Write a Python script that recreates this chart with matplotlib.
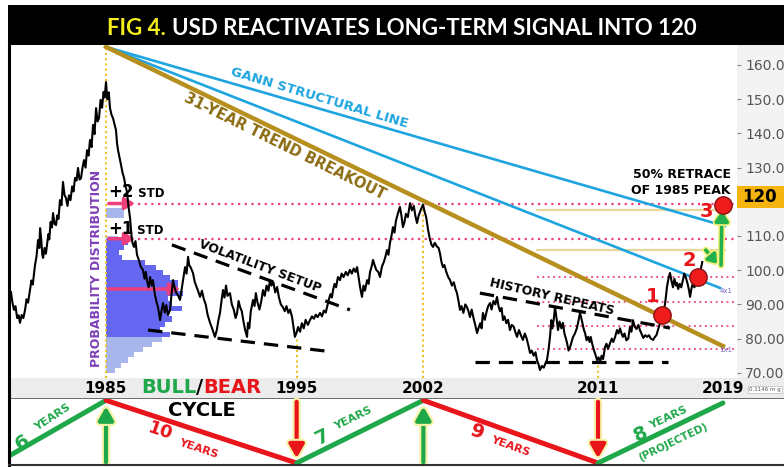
import matplotlib
matplotlib.use("Agg")
import matplotlib.pyplot as plt
import matplotlib.patheffects as pe
from matplotlib.patches import Rectangle
from matplotlib.lines import Line2D

W, H = 784, 467

# US dollar index (decimal year, index level)
usd_year = [1980.09, 1980.17, 1980.25, 1980.33, 1980.42, 1980.50, 1980.57, 1980.66, 1980.75, 1980.84,
            1980.92, 1981.00, 1981.10, 1981.18, 1981.25, 1981.37, 1981.45, 1981.53, 1981.60, 1981.64,
            1981.70, 1981.76, 1981.80, 1981.88, 1981.95, 1982.01, 1982.08, 1982.13, 1982.20, 1982.27,
            1982.33, 1982.41, 1982.49, 1982.55, 1982.62, 1982.70, 1982.78, 1982.86, 1982.94, 1983.02,
            1983.10, 1983.18, 1983.26, 1983.35, 1983.42, 1983.50, 1983.58, 1983.66, 1983.74, 1983.82,
            1983.90, 1983.98, 1984.06, 1984.14, 1984.22, 1984.30, 1984.38, 1984.46, 1984.54, 1984.62,
            1984.70, 1984.78, 1984.86, 1984.94, 1985.02, 1985.08, 1985.15, 1985.22, 1985.30, 1985.36,
            1985.44, 1985.52, 1985.60, 1985.68, 1985.74, 1985.79, 1985.87, 1985.95, 1986.03, 1986.11,
            1986.19, 1986.27, 1986.35, 1986.43, 1986.50, 1986.56, 1986.64, 1986.72, 1986.80, 1986.90,
            1987.00, 1987.12, 1987.20, 1987.27, 1987.33, 1987.42, 1987.50, 1987.58, 1987.65, 1987.75,
            1987.85, 1987.92, 1988.03, 1988.10, 1988.19, 1988.28, 1988.36, 1988.45, 1988.56, 1988.64,
            1988.72, 1988.80, 1988.88, 1989.00, 1989.09, 1989.18, 1989.27, 1989.36, 1989.44, 1989.52,
            1989.58, 1989.66, 1989.78, 1989.88, 1989.98, 1990.08, 1990.16, 1990.26, 1990.36, 1990.46,
            1990.56, 1990.69, 1990.80, 1990.95, 1991.05, 1991.14, 1991.22, 1991.30, 1991.38, 1991.46,
            1991.54, 1991.62, 1991.75, 1991.85, 1991.95, 1992.05, 1992.13, 1992.21, 1992.29, 1992.38,
            1992.47, 1992.56, 1992.66, 1992.71, 1992.78, 1992.86, 1992.98, 1993.06, 1993.13, 1993.22,
            1993.32, 1993.42, 1993.51, 1993.60, 1993.70, 1993.80, 1993.88, 1993.96, 1994.06, 1994.16,
            1994.26, 1994.36, 1994.46, 1994.57, 1994.67, 1994.76, 1994.86, 1994.95, 1995.05, 1995.13,
            1995.21, 1995.30, 1995.38, 1995.48, 1995.58, 1995.68, 1995.78, 1995.90, 1996.01, 1996.12,
            1996.22, 1996.32, 1996.42, 1996.55, 1996.65, 1996.75, 1996.85, 1996.92, 1997.02, 1997.10,
            1997.18, 1997.24, 1997.32, 1997.40, 1997.50, 1997.61, 1997.70, 1997.80, 1997.92, 1998.02,
            1998.14, 1998.24, 1998.34, 1998.44, 1998.52, 1998.60, 1998.68, 1998.78, 1998.86, 1998.94,
            1999.05, 1999.13, 1999.21, 1999.29, 1999.37, 1999.45, 1999.55, 1999.65, 1999.74, 1999.84,
            1999.95, 2000.03, 2000.11, 2000.19, 2000.27, 2000.35, 2000.43, 2000.51, 2000.59, 2000.69,
            2000.80, 2000.88, 2000.96, 2001.04, 2001.12, 2001.22, 2001.34, 2001.44, 2001.54, 2001.62,
            2001.71, 2001.80, 2001.90, 2002.03, 2002.12, 2002.20, 2002.30, 2002.40, 2002.48, 2002.56,
            2002.66, 2002.76, 2002.86, 2002.93, 2003.01, 2003.09, 2003.17, 2003.27, 2003.37, 2003.47,
            2003.57, 2003.67, 2003.76, 2003.84, 2003.92, 2004.00, 2004.08, 2004.18, 2004.28, 2004.37,
            2004.45, 2004.53, 2004.62, 2004.72, 2004.81, 2004.91, 2004.98, 2005.08, 2005.15, 2005.22,
            2005.32, 2005.42, 2005.50, 2005.60, 2005.68, 2005.78, 2005.88, 2005.97, 2006.05, 2006.13,
            2006.21, 2006.29, 2006.37, 2006.47, 2006.56, 2006.66, 2006.76, 2006.86, 2006.94, 2007.04,
            2007.14, 2007.24, 2007.35, 2007.45, 2007.55, 2007.64, 2007.73, 2007.82, 2007.92, 2008.02,
            2008.10, 2008.18, 2008.26, 2008.36, 2008.46, 2008.55, 2008.63, 2008.72, 2008.80, 2008.86,
            2008.92, 2009.00, 2009.06, 2009.14, 2009.22, 2009.30, 2009.40, 2009.48, 2009.56, 2009.64,
            2009.70, 2009.78, 2009.86, 2009.94, 2010.02, 2010.12, 2010.22, 2010.30, 2010.39, 2010.46,
            2010.54, 2010.60, 2010.66, 2010.74, 2010.82, 2010.90, 2010.96, 2011.03, 2011.11, 2011.20,
            2011.30, 2011.38, 2011.46, 2011.54, 2011.62, 2011.72, 2011.80, 2011.88, 2011.99, 2012.08,
            2012.16, 2012.26, 2012.36, 2012.44, 2012.52, 2012.60, 2012.68, 2012.76, 2012.86, 2012.96,
            2013.05, 2013.13, 2013.21, 2013.30, 2013.40, 2013.50, 2013.58, 2013.66, 2013.76, 2013.86,
            2013.96, 2014.06, 2014.16, 2014.28, 2014.38, 2014.46, 2014.54, 2014.62, 2014.70, 2014.81,
            2014.90, 2014.96, 2015.02, 2015.10, 2015.18, 2015.26, 2015.34, 2015.42, 2015.50, 2015.55,
            2015.62, 2015.70, 2015.78, 2015.87, 2015.94, 2016.02, 2016.12, 2016.20, 2016.25, 2016.32,
            2016.40, 2016.48, 2016.56, 2016.64, 2016.72, 2016.78, 2016.84, 2016.90]
usd_value = [93.6, 90.5, 88.4, 89.5, 86.0, 86.8, 84.6, 86.9, 86.0, 88.4,
             91.5, 90.5, 94.2, 97.0, 95.8, 101.5, 104.0, 108.8, 106.5, 112.3,
             109.0, 104.5, 103.6, 106.5, 104.8, 107.4, 110.5, 109.0, 114.1, 112.5,
             116.7, 113.5, 113.2, 116.0, 115.0, 120.5, 119.0, 125.8, 122.0, 121.1,
             118.8, 121.9, 120.5, 124.5, 123.0, 127.0, 126.2, 129.9, 126.5, 126.9,
             130.0, 132.2, 130.0, 135.1, 133.5, 138.1, 136.0, 142.5, 139.8, 147.4,
             143.5, 144.5, 149.8, 147.5, 152.1, 150.5, 155.0, 150.0, 152.0, 147.5,
             145.5, 144.5, 142.8, 141.0, 137.0, 135.1, 133.0, 130.8, 128.5, 127.0,
             124.5, 122.9, 118.5, 115.3, 110.5, 108.0, 106.8, 108.5, 104.5, 103.0,
             101.0, 100.1, 97.5, 99.5, 97.1, 95.0, 98.0, 95.5, 97.1, 93.0,
             90.5, 89.2, 85.4, 88.0, 90.4, 87.6, 89.8, 86.9, 88.4, 93.0,
             97.1, 95.0, 93.5, 92.5, 91.3, 94.5, 97.5, 100.9, 99.0, 103.9,
             101.5, 100.8, 99.2, 96.5, 95.0, 93.5, 92.2, 94.0, 91.5, 90.0,
             87.0, 84.6, 83.0, 80.5, 82.5, 85.5, 87.5, 91.0, 94.2, 92.0,
             95.5, 92.5, 93.3, 90.0, 88.5, 86.0, 87.5, 91.0, 89.2, 88.0,
             85.0, 82.5, 80.5, 84.6, 83.0, 88.0, 91.3, 89.5, 93.3, 90.5,
             88.5, 91.0, 94.2, 92.5, 95.5, 94.0, 97.1, 95.5, 96.5, 93.5,
             95.1, 92.0, 90.0, 89.2, 88.0, 89.5, 87.5, 88.5, 86.5, 83.5,
             80.5, 81.8, 83.4, 82.0, 84.5, 83.0, 85.5, 84.0, 85.4, 86.5,
             85.8, 87.0, 86.3, 87.5, 86.5, 88.2, 87.6, 89.2, 91.5, 93.0,
             92.0, 94.2, 96.0, 95.0, 98.0, 97.1, 99.0, 98.0, 99.5, 98.5,
             100.1, 99.0, 100.5, 99.5, 100.9, 98.0, 95.0, 92.2, 95.5, 94.0,
             97.1, 96.0, 99.5, 101.0, 103.0, 101.5, 100.0, 99.5, 98.0, 101.0,
             102.5, 104.0, 105.9, 104.5, 108.0, 110.0, 112.6, 111.0, 114.5, 116.5,
             118.5, 116.0, 112.6, 114.0, 116.5, 115.5, 119.6, 117.5, 118.8, 116.0,
             113.8, 116.0, 117.5, 119.2, 117.0, 115.5, 111.8, 109.0, 107.5, 106.8,
             108.0, 107.0, 106.5, 105.0, 102.5, 100.9, 101.5, 99.5, 98.0, 97.1,
             95.5, 96.5, 94.5, 93.3, 91.0, 88.4, 89.5, 87.5, 90.0, 89.2,
             88.0, 86.3, 88.5, 86.0, 84.0, 81.6, 83.0, 84.5, 83.0, 87.5,
             85.5, 88.0, 89.5, 90.4, 88.5, 91.0, 90.0, 92.2, 89.5, 88.0,
             89.0, 85.4, 86.5, 84.5, 85.5, 82.5, 84.0, 83.5, 82.0, 80.5,
             82.5, 81.0, 79.6, 81.5, 80.0, 78.0, 75.8, 76.5, 75.0, 76.0,
             73.7, 72.5, 70.8, 72.0, 71.5, 72.8, 73.7, 77.0, 81.0, 85.4,
             83.0, 86.0, 89.2, 86.0, 82.5, 85.0, 83.0, 84.6, 81.5, 80.0,
             78.7, 76.5, 77.5, 79.0, 80.5, 81.5, 83.0, 85.0, 87.5, 86.0,
             84.0, 82.5, 81.6, 79.5, 80.5, 79.0, 80.5, 78.7, 77.0, 75.5,
             73.7, 74.5, 73.2, 75.0, 74.0, 77.5, 78.5, 77.0, 78.7, 80.0,
             79.0, 80.5, 82.5, 81.5, 83.0, 81.5, 80.5, 81.5, 79.5, 80.0,
             83.4, 82.0, 85.4, 83.5, 82.8, 84.0, 82.5, 81.5, 80.2, 81.0,
             80.5, 81.0, 80.0, 79.6, 80.5, 81.0, 82.5, 84.0, 85.0, 87.5,
             89.5, 92.0, 95.1, 97.5, 99.2, 97.0, 95.0, 97.5, 95.5, 96.3,
             94.5, 96.0, 95.0, 97.1, 99.0, 98.0, 96.0, 94.0, 92.2, 94.5,
             96.3, 95.0, 96.0, 95.5, 97.5, 99.2, 100.8, 102.4]

# 1985 probability distribution (price bin, bar length in years, bin height)
prob_level = [70.75, 72.25, 73.75, 75.25, 76.75, 78.25, 79.75, 81.25, 82.75, 84.25,
              85.75, 87.25, 88.75, 90.25, 91.75, 93.25, 94.75, 96.25, 97.75, 99.25,
              100.75, 102.25, 103.75, 105.25, 106.75, 108.25, 109.5, 116.0, 117.5]
prob_width = [0.48, 0.80, 1.17, 1.49, 1.97, 2.45, 2.98, 3.41, 2.88, 3.14,
              3.51, 3.30, 4.05, 3.51, 3.30, 4.10, 3.83, 3.83, 3.41, 3.04,
              2.66, 2.08, 0.85, 0.69, 0.96, 1.17, 0.64, 0.96, 0.96]
prob_height = [1.5] * 26 + [1.0, 1.5, 1.5]
core_low, core_high = 81.0, 108.9

# trend lines from the 1985 peak
peak_year, peak_value = 1985.15, 165.3
gann_end_year = [2018.1, 2017.85]
gann_end_value = [112.9, 94.8]
trend_end_year, trend_end_value = 2018.0, 77.8

# standard-deviation levels and other horizontal levels
std_levels = [119.5, 109.2]
mean_level = 94.5
short_pink = [98.0, 90.8, 83.7, 77.0]
short_gold = [117.5, 106.0]

# dashed support / resistance guides
vol_top = ([1988.66, 1998.14], [107.4, 88.4])
vol_bot = ([1987.39, 1997.24], [82.5, 76.1])
hist_top = ([2005.06, 2015.18], [93.3, 83.1])
hist_bot = ([2004.80, 2015.07], [73.2, 73.2])

# cycle turning points
turn_year = [1985.15, 1995.30, 2002.05, 2011.35]
turn_value = [165.3, 80.5, 119.2, 73.2]
cycle_year = [1979.15, 1985.15, 1995.30, 2002.05, 2011.35, 2018.0]
cycle_level = [0.0, 0.98, 0.03, 0.98, 0.03, 0.94]
year_labels = ['1985', '1995', '2002', '2011', '2019']

# signals 1-2-3
signal_year = [2014.75, 2016.67, 2018.0]
signal_value = [86.9, 98.0, 119.1]
signal_label = ['1', '2', '3']

yticks = [70, 80, 90, 100, 110, 130, 140, 150, 160]

GREEN = '#1fa84a'
RED = '#e8151b'
GOLD = '#b78f1e'
BLUE = '#1ea5e0'
PINK = '#ee3f7c'
YEL = '#f0c020'
GLOW = [pe.withStroke(linewidth=6, foreground='#f8f3a6')]


def box(x0, y0, x1, y1):
    return [x0 / W, 1 - y1 / H, (x1 - x0) / W, (y1 - y0) / H]


def yr(px):
    return 1985.15 + (px - 106) / 18.78


def lv(py):
    return 160 - (py - 65) / 3.42


fig = plt.figure(figsize=(W / 100, H / 100), dpi=100)
fig.patch.set_facecolor('white')
R = fig.canvas.get_renderer()


def put_row(parts, x0, base):
    x = x0
    for s, kw in parts:
        t = fig.text(x / W, 1 - base / H, s, ha='left', va='baseline', **kw)
        x += t.get_window_extent(R).width
    return x


# ---------------- main price panel ----------------
ax = fig.add_axes(box(10, 45, 737, 378))
ax.set_xlim(yr(10), yr(737))
ax.set_ylim(lv(378), lv(45))
ax.set_facecolor('white')
for s in ax.spines.values():
    s.set_visible(False)
ax.set_xticks([])
ax.yaxis.tick_right()
ax.set_yticks(yticks)
ax.set_yticklabels(['%.2f' % v for v in yticks], color='#555555', fontsize=10)
ax.tick_params(axis='y', length=3, color='#888888', pad=3)

# histogram
cols = ['#6567f0' if core_low <= p <= core_high else '#a8b6ec' for p in prob_level]
ax.barh(prob_level, prob_width, height=prob_height, left=peak_year, color=cols, zorder=1)

# horizontal levels
for v in std_levels:
    ax.plot([yr(138), ax.get_xlim()[1]], [v, v], ls=(0, (1, 2)), color=PINK, lw=1.6, zorder=2)
for v in short_pink:
    ax.plot([yr(537), ax.get_xlim()[1]], [v, v], ls=(0, (1, 2)), color=PINK, lw=1.3, zorder=2)
for v in short_gold:
    ax.plot([yr(537), yr(725)], [v, v], color='#e6d89a', lw=1.6, zorder=2)

# pink arrows from the distribution
for v, tip in [(std_levels[0], yr(138)), (std_levels[1], yr(138)), (mean_level, yr(183))]:
    ax.annotate('', xy=(tip, v), xytext=(peak_year, v),
                arrowprops=dict(arrowstyle='-|>,head_width=0.35,head_length=0.6', color=PINK, lw=2.5),
                zorder=4)

# cycle verticals
for x, top in zip(turn_year, turn_value):
    ax.plot([x, x], [ax.get_ylim()[0], top], ls=(0, (1, 1.5)), color=YEL, lw=1.5, zorder=2)

# trend lines
for ey, ev in zip(gann_end_year, gann_end_value):
    ax.plot([peak_year, ey], [peak_value, ev], color=BLUE, lw=1.9, zorder=3)
ax.plot([peak_year, trend_end_year], [peak_value, trend_end_value], color=GOLD, lw=3.2, zorder=3)

# dashed guides
for gx, gy in [vol_top, vol_bot, hist_top, hist_bot]:
    ax.plot(gx, gy, color='black', lw=2.3, ls=(0, (4.5, 2.8)), zorder=4)

# price
ax.plot(usd_year, usd_value, color='black', lw=1.5, zorder=5)

# signals
ax.plot(signal_year, signal_value, 'o', ms=12.5, mfc='#ee1c1c', mec='#8a1010', mew=1, zorder=7)
for x, v, s, off in zip(signal_year, signal_value, signal_label, [(-7, 13), (-6.5, 12), (-12, -5)]):
    ax.annotate(s, (x, v), xytext=off, textcoords='offset points', ha='center', va='center',
                color=RED, fontsize=14, fontweight='bold', zorder=8)

# green arrows 2 -> 3
a1 = ax.annotate('', xy=(yr(719), lv(266)), xytext=(yr(704), lv(248)),
                 arrowprops=dict(arrowstyle='-|>,head_width=0.35,head_length=0.5', color='#22b14c', lw=2.6), zorder=6)
a2 = ax.annotate('', xy=(yr(722), lv(208)), xytext=(yr(721), lv(268)),
                 arrowprops=dict(arrowstyle='-|>,head_width=0.4,head_length=0.6', color='#22b14c', lw=2.6), zorder=6)
for a in (a1, a2):
    a.arrow_patch.set_path_effects([pe.withStroke(linewidth=5, foreground='#f5f07a')])

# main texts
ax.text(yr(319), lv(98), 'GANN STRUCTURAL LINE', color=BLUE, fontsize=9.5, fontweight='bold',
        rotation=-16.6, rotation_mode='anchor', ha='center', va='center', zorder=6)
ax.text(yr(285), lv(146), '31-YEAR TREND BREAKOUT', color='#8c6c12', fontsize=10.5, fontweight='bold',
        rotation=-26.3, rotation_mode='anchor', ha='center', va='center', zorder=6)
ax.text(yr(260), lv(266), 'VOLATILITY SETUP', color='black', fontsize=9, fontweight='bold',
        rotation=-20.5, rotation_mode='anchor', ha='center', va='center', zorder=6)
ax.text(yr(552), lv(297), 'HISTORY REPEATS', color='black', fontsize=9, fontweight='bold',
        rotation=-13, rotation_mode='anchor', ha='center', va='center', zorder=6)
ax.text(yr(97), lv(268), 'PROBABILITY DISTRIBUTION', color='#7e3fb8', fontsize=9, fontweight='bold',
        rotation=90, ha='center', va='center', zorder=6)
ax.text(yr(731), lv(175), '50% RETRACE', color='black', fontsize=9, fontweight='bold', ha='right', va='center', zorder=6)
ax.text(yr(731), lv(191), 'OF 1985 PEAK', color='black', fontsize=9, fontweight='bold', ha='right', va='center', zorder=6)
ax.text(yr(726), lv(291), '4x1', color='#7b68c8', fontsize=5, ha='center', va='center')
ax.text(yr(726), lv(350), '1x1', color='#7b68c8', fontsize=5, ha='center', va='center')

put_row([('+2', dict(fontsize=12, fontweight='bold', color='black')),
         (' STD', dict(fontsize=8.5, fontweight='bold', color='black'))], 108, 197)
put_row([('+1', dict(fontsize=12, fontweight='bold', color='black')),
         (' STD', dict(fontsize=8.5, fontweight='bold', color='black'))], 108, 234)

# right axis strip and 120 tag
fig.add_artist(Rectangle((737 / W, 1 - 378 / H), 47 / W, 333 / H, transform=fig.transFigure,
                         facecolor='#f3f3f3', edgecolor='none', zorder=-1))
fig.add_artist(Rectangle((737 / W, 1 - 208 / H), 47 / W, 22 / H, transform=fig.transFigure,
                         facecolor='#f6b40e', edgecolor='none', zorder=10))
fig.text(760 / W, 1 - 197 / H, '120', fontsize=12, fontweight='bold', ha='center', va='center', zorder=11)

# ---------------- year band ----------------
band = fig.add_axes(box(10, 378, 784, 399))
band.set_xlim(yr(10), yr(784))
band.set_ylim(0, 1)
band.set_facecolor('#ececec')
band.set_xticks([])
band.set_yticks([])
for s in band.spines.values():
    s.set_visible(False)
band.axhline(0, color='#555555', lw=1.2)
for x, s in zip(cycle_year[1:], year_labels):
    band.text(x, 0.3, s, fontsize=11, fontweight='bold', ha='center', va='baseline')
band.text(yr(765), 0.45, '0.1146 m g', fontsize=4, color='#555555', ha='center', va='center',
          bbox=dict(facecolor='white', edgecolor='#bbbbbb', pad=1, lw=0.5))
put_row([('BULL', dict(fontsize=14, fontweight='bold', color=GREEN)),
         ('/', dict(fontsize=14, fontweight='bold', color='black')),
         ('BEAR', dict(fontsize=14, fontweight='bold', color=RED))], 141, 393)

# ---------------- cycle panel ----------------
low = fig.add_axes(box(10, 399, 784, 465))
low.set_xlim(yr(10), yr(784))
low.set_ylim(0, 1)
low.axis('off')
for i in range(len(cycle_year) - 1):
    low.plot(cycle_year[i:i + 2], cycle_level[i:i + 2], color=GREEN if i % 2 == 0 else RED,
             lw=3.6, solid_capstyle='round', zorder=3)
for i, x in enumerate(turn_year):
    up = i % 2 == 0
    a = low.annotate('', xy=(x, 0.93 if up else 0.06), xytext=(x, 0.0 if up else 1.0),
                     arrowprops=dict(arrowstyle='-|>,head_width=0.45,head_length=0.8',
                                     color=GREEN if up else RED, lw=3.0), zorder=2)
    a.arrow_patch.set_path_effects(GLOW)

lab = [('6', 22, 443, 33, GREEN, 14), ('YEARS', 53, 417, 33, GREEN, 8),
       ('10', 160, 431, -18.5, RED, 13), ('YEARS', 198, 449, -18.5, RED, 8),
       ('7', 322, 437, 26, GREEN, 14), ('YEARS', 353, 418, 26, GREEN, 8),
       ('9', 477, 432, -20, RED, 14), ('YEARS', 510, 446, -20, RED, 8),
       ('8', 641, 434, 25, GREEN, 14), ('YEARS', 668, 418, 25, GREEN, 8),
       ('(PROJECTED)', 673, 442, 25.5, GREEN, 7.5)]
for s, x, y, rot, c, fs in lab:
    low.text(yr(x), (465 - y) / 66, s, color=c, fontsize=fs, fontweight='bold', rotation=rot,
             rotation_mode='anchor', ha='center', va='center', zorder=5)
low.text(yr(202), (465 - 410) / 66, 'CYCLE', fontsize=14, fontweight='bold', ha='center', va='center')

# frame
fig.add_artist(Line2D([9 / W, 9 / W], [0, 1 - 45 / H], transform=fig.transFigure, color='black', lw=2.2))
fig.add_artist(Line2D([9 / W, 1], [1 - 465 / H, 1 - 465 / H], transform=fig.transFigure, color='#333333', lw=1.5))

# ---------------- title ----------------
fig.add_artist(Rectangle((8 / W, 1 - 45 / H), 1, 40 / H, transform=fig.transFigure,
                         facecolor='black', edgecolor='none', zorder=20))
ts = dict(fontsize=16, fontweight='bold', family='Lato', zorder=21)
t1 = fig.text(107 / W, 1 - 35 / H, 'FIG 4.', color='#f5ee1c', ha='left', va='baseline', **ts)
w1 = t1.get_window_extent(R).width
fig.text((107 + w1 + 6) / W, 1 - 35 / H, 'USD REACTIVATES LONG-TERM SIGNAL INTO 120', color='white',
         ha='left', va='baseline', **ts)

fig.savefig('out.png', dpi=100, facecolor='white')
